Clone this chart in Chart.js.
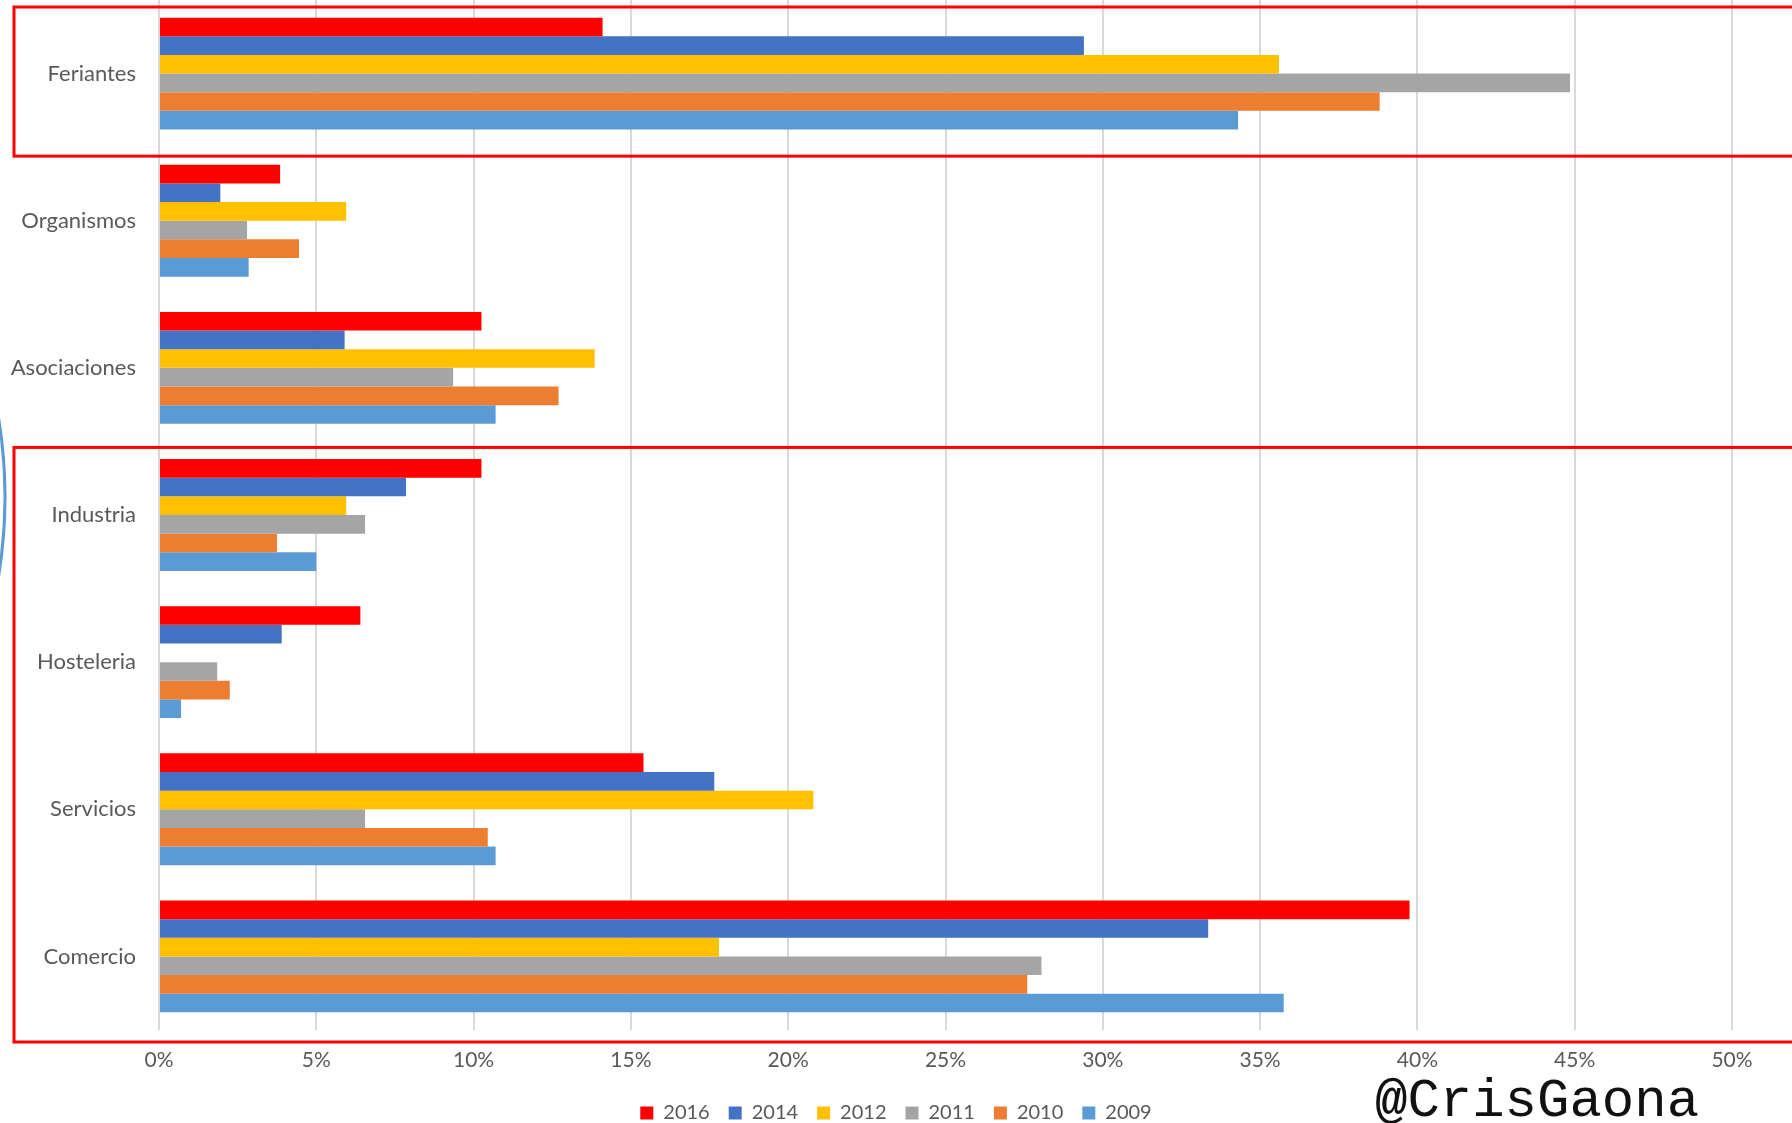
<!DOCTYPE html>
<html>
<head>
<meta charset="utf-8">
<script src="https://cdn.jsdelivr.net/npm/chart.js@4.4.1/dist/chart.umd.min.js"></script>
<style>
  html, body { margin: 0; padding: 0; background: #fff; }
  #wrap { position: relative; width: 1792px; height: 1123px; overflow: hidden; }
</style>
</head>
<body>
<div id="wrap"><canvas id="chartSectores" width="1792" height="1123"></canvas></div>
<script>
// sectores y años (orden de arriba abajo)
const categories = ['Feriantes', 'Organismos', 'Asociaciones', 'Industria', 'Hosteleria', 'Servicios', 'Comercio'];
const years = ['2016', '2014', '2012', '2011', '2010', '2009'];

// porcentajes por año
const v2016 = [14.1, 3.85, 10.25, 10.25, 6.4, 15.4, 39.75];
const v2014 = [29.4, 1.95, 5.9, 7.85, 3.9, 17.65, 33.35];
const v2012 = [35.6, 5.95, 13.85, 5.95, null, 20.8, 17.8];
const v2011 = [44.85, 2.8, 9.35, 6.55, 1.85, 6.55, 28.05];
const v2010 = [38.8, 4.45, 12.7, 3.75, 2.25, 10.45, 27.6];
const v2009 = [34.3, 2.85, 10.7, 5.0, 0.7, 10.7, 35.75];

const xTicks = [0, 5, 10, 15, 20, 25, 30, 35, 40, 45, 50];

const series = [v2016, v2014, v2012, v2011, v2010, v2009];
const colors = ['#ff0000', '#4472c4', '#ffc000', '#a5a5a5', '#ed7d31', '#5b9bd5'];

const TEXT = '#595959';
const GRID = '#d9d9d9';
const FONT = 'Lato, "Open Sans", sans-serif';

// recuadros rojos, arco azul y firma
const decor = {
  id: 'decor',
  afterDraw(chart) {
    const { ctx, chartArea } = chart;
    const band = (chartArea.bottom - chartArea.top) / categories.length;
    ctx.save();
    ctx.strokeStyle = '#ff0000';
    ctx.lineWidth = 3;
    let top = chartArea.top + 7;
    ctx.strokeRect(14, top, 1900, band + 2);
    top = chartArea.top + 3 * band + 6;
    ctx.strokeRect(14, top, 1900, chartArea.bottom + 12 - top);

    ctx.strokeStyle = '#5b9bd5';
    ctx.beginPath();
    ctx.arc(-488, 497, 493, -0.16, 0.16);
    ctx.stroke();

    ctx.fillStyle = '#111';
    ctx.textBaseline = 'alphabetic';
    ctx.translate(1375, 1116);
    ctx.font = 'bold 54px "Liberation Mono", monospace';
    ctx.fillText('@', 0, 0);
    const w = ctx.measureText('@').width;
    ctx.font = '54px "Liberation Mono", monospace';
    ctx.fillText('CrisGaona', w, 0);
    ctx.restore();
  }
};

new Chart(document.getElementById('chartSectores'), {
  type: 'bar',
  data: {
    labels: categories,
    datasets: years.map((y, i) => ({
      label: y,
      data: series[i],
      backgroundColor: colors[i],
      borderWidth: 0,
      categoryPercentage: 0.76,
      barPercentage: 1.0
    }))
  },
  options: {
    indexAxis: 'y',
    responsive: false,
    animation: false,
    layout: { padding: { top: 0, right: 0, bottom: -10, left: 0 } },
    plugins: {
      legend: {
        position: 'bottom',
        labels: {
          color: TEXT,
          font: { family: FONT, size: 20 },
          boxWidth: 13,
          boxHeight: 13,
          padding: 19
        }
      },
      tooltip: { enabled: false }
    },
    scales: {
      x: {
        min: 0,
        max: 50,
        afterBuildTicks: (s) => { s.ticks = xTicks.map((v) => ({ value: v })); },
        grid: { color: GRID, lineWidth: 2, drawTicks: false },
        border: { display: false },
        ticks: {
          color: TEXT,
          font: { family: FONT, size: 21 },
          padding: 18,
          callback: (v) => v + '%'
        },
        afterFit: (s) => { s.height = 54; s.paddingRight = 60; s.paddingLeft = 0; }
      },
      y: {
        grid: { display: false },
        border: { display: false },
        ticks: {
          color: TEXT,
          font: { family: FONT, size: 22 },
          padding: 15
        },
        afterFit: (s) => { s.width = 159; s.paddingTop = 0; s.paddingBottom = 0; }
      }
    }
  },
  plugins: [decor]
});
</script>
</body>
</html>
